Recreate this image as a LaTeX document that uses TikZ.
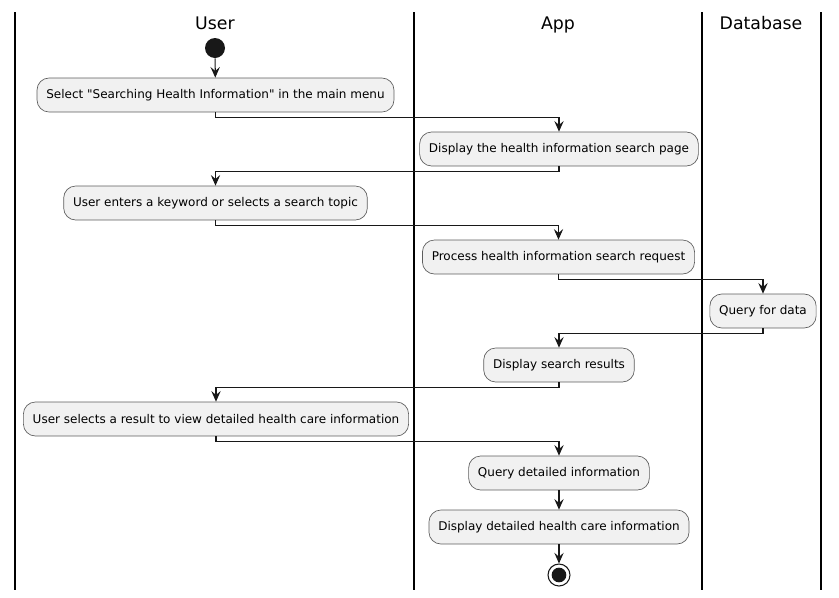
\documentclass[tikz,border=0pt]{standalone}
\usepackage{fontspec}
\setmainfont{DejaVu Sans}[Ligatures=TeXOff]
\usetikzlibrary{arrows.meta}
\definecolor{boxfill}{HTML}{F1F1F1}
\definecolor{boxline}{HTML}{181818}
\tikzset{
  act/.style={draw=boxline!70, line width=0.5pt, fill=boxfill, rounded corners=9pt,
    minimum height=25.5pt, inner xsep=7pt, font=\fontsize{9}{11}\selectfont},
  lane/.style={line width=1.5pt, draw=black},
  lanetitle/.style={font=\fontsize{13}{15}\selectfont, anchor=base, inner sep=0pt},
  flow/.style={line width=0.8pt, draw=boxline, -{Stealth[length=8pt,width=7pt,inset=3pt]}},
}
\begin{document}
\begin{tikzpicture}[x=0.75pt,y=-0.75pt]
\useasboundingbox (0,0) rectangle (839,597);
% lanes
\draw[lane] (15,12) -- (15,590);
\draw[lane] (414,12) -- (414,590);
\draw[lane] (702,12) -- (702,590);
\draw[lane] (821,12) -- (821,590);
\node[lanetitle] (tu) at (215,29) {User};
\node[lanetitle] (ta) at (558,29) {App};
\node[lanetitle] (td) at (761,29) {Database};
% nodes
\node[circle, fill=boxline, minimum size=15pt, inner sep=0pt] (start) at (215,48) {};
\node[act] (n1) at (215.5,95) {Select "Searching Health Information" in the main menu};
\node[act] (n2) at (559,149) {Display the health information search page};
\node[act] (n3) at (215.5,203) {User enters a keyword or selects a search topic};
\node[act] (n4) at (558.5,257) {Process health information search request};
\node[act] (n5) at (763,311) {Query for data};
\node[act] (n6) at (559,365) {Display search results};
\node[act] (n7) at (216,419) {User selects a result to view detailed health care information};
\node[act] (n8) at (559,473) {Query detailed information};
\node[act] (n9) at (559,527) {Display detailed health care information};
\node[circle, draw=boxline, line width=0.8pt, fill=white, minimum size=16.5pt, inner sep=0pt] (stop) at (559,575) {};
\node[circle, fill=boxline, minimum size=11pt, inner sep=0pt] (stopin) at (559,575) {};
% connectors
\draw[flow] (start) -- (n1);
\draw[flow] (n1.south) -- ++(0,5) -| (n2.north);
\draw[flow] (n2.south) -- ++(0,5) -| (n3.north);
\draw[flow] (n3.south) -- ++(0,5) -| (n4.north);
\draw[flow] (n4.south) -- ++(0,5) -| (n5.north);
\draw[flow] (n5.south) -- ++(0,5) -| (n6.north);
\draw[flow] (n6.south) -- ++(0,5) -| (n7.north);
\draw[flow] (n7.south) -- ++(0,5) -| (n8.north);
\draw[flow] (n8) -- (n9);
\draw[flow] (n9) -- (stop);
\end{tikzpicture}
\end{document}
